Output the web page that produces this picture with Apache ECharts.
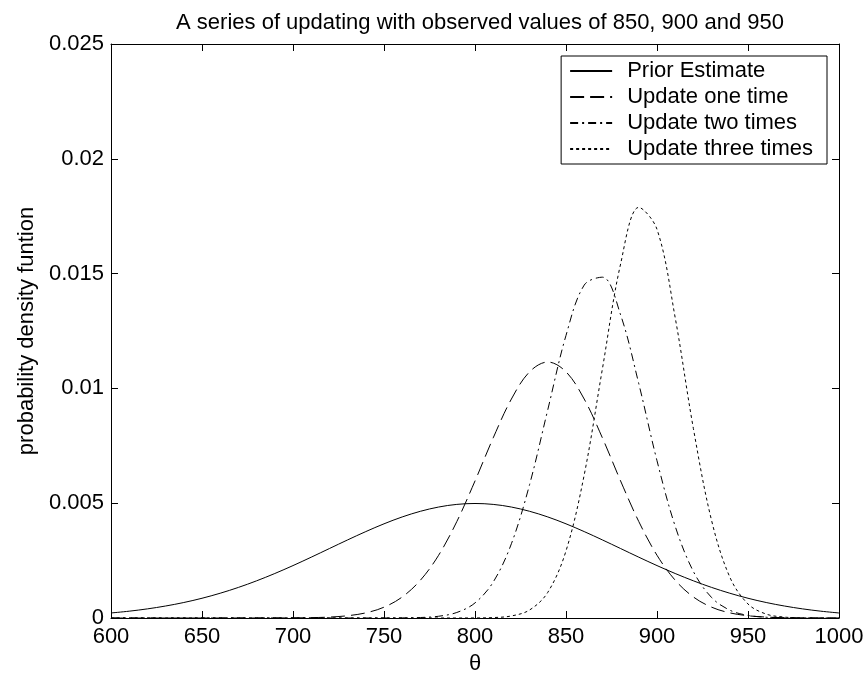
<!DOCTYPE html>
<html>
<head>
<meta charset="utf-8">
<script src="https://cdn.jsdelivr.net/npm/echarts@6/dist/echarts.min.js"></script>
<style>
html,body{margin:0;padding:0;background:#fff;}
#chart{width:865px;height:675px;}
</style>
</head>
<body>
<div id="chart"></div>
<script>
// θ sample positions
var theta = [600,610,620,630,640,650,660,670,680,690,700,710,720,730,740,750,760,770,780,790,800,810,820,830,840,850,860,870,880,890,900,910,920,930,940,950,960,970,980,990,1000];
var priorEstimate = [0.000219,0.000297,0.000397,0.000522,0.000675,0.000860,0.001079,0.001332,0.001619,0.001938,0.002283,0.002648,0.003025,0.003401,0.003764,0.004102,0.004401,0.004648,0.004833,0.004948,0.004987,0.004948,0.004833,0.004648,0.004401,0.004102,0.003764,0.003401,0.003025,0.002648,0.002283,0.001938,0.001619,0.001332,0.001079,0.000860,0.000675,0.000522,0.000397,0.000297,0.000219];
var updateOne = [0,0,0,0,0,0,0,0,0.0000005,0.0000017,0.0000053,0.0000151,0.0000402,0.0000988,0.000224,0.000471,0.000915,0.001645,0.002732,0.004199,0.005968,0.007845,0.009537,0.010723,0.011150,0.010723,0.009537,0.007845,0.005968,0.004199,0.002732,0.001645,0.000915,0.000471,0.000224,0.0000988,0.0000402,0.0000151,0.0000053,0.0000017,0.0000005];
var updateTwo = [0,0,0,0,0,0,0,0,0,0,0,0,0,0,0.0000002,0.0000010,0.0000050,0.0000210,0.0000760,0.000240,0.000657,0.001565,0.003235,0.005813,0.009074,0.012306,0.014500,0.014844,0.013202,0.010202,0.006849,0.003995,0.002025,0.000891,0.000341,0.000113,0.0000330,0.0000082,0.0000018,0.0000003,0];
var updateThree = [0,0,0,0,0,0,0,0,0,0,0,0,0,0,0,0,0,0,0,0.0000004,0.0000031,0.0000185,0.0000890,0.000349,0.001118,0.002922,0.006232,0.010851,0.015418,0.017884,0.016929,0.013079,0.008248,0.004245,0.001783,0.000611,0.000171,0.0000390,0.0000073,0.0000011,0.0000001];
var seriesNames = ['Prior Estimate','Update one time','Update two times','Update three times'];
var xTicks = [600,650,700,750,800,850,900,950,1000];
var yTicks = [0,0.005,0.01,0.015,0.02,0.025];

function pairs(ys){ return theta.map(function(x,i){ return [x, ys[i]]; }); }

var FONT = 'Liberation Sans, Arial, sans-serif';
var FS = 22;
var dashes = ['solid',[14,6],[8,4,2,4],[3,3]];
var allData = [priorEstimate, updateOne, updateTwo, updateThree];

function xAxisDef(pos, showLabels){
  var a = {
    type:'value', position: pos,
    min: xTicks[0], max: xTicks[xTicks.length-1], interval: xTicks[1]-xTicks[0],
    axisLine: {show:true, onZero:false, lineStyle:{color:'#000', width:1}},
    axisTick: {show:true, inside:true, length:7, lineStyle:{color:'#000'}},
    splitLine: {show:false},
    axisLabel: {show: showLabels, fontFamily: FONT, fontSize: FS, color:'#000', margin: 8,
      formatter: function(v){ return String(v); }}
  };
  if (showLabels) {
    a.name = 'θ'; a.nameLocation = 'middle'; a.nameGap = 35;
    a.nameTextStyle = {fontFamily: FONT, fontSize: FS, color:'#000'};
  }
  return a;
}
function yAxisDef(pos, showLabels){
  var a = {
    type:'value', position: pos,
    min: yTicks[0], max: yTicks[yTicks.length-1], interval: yTicks[1]-yTicks[0],
    axisLine: {show:true, onZero:false, lineStyle:{color:'#000', width:1}},
    axisTick: {show:true, inside:true, length:7, lineStyle:{color:'#000'}},
    splitLine: {show:false},
    axisLabel: {show: showLabels, fontFamily: FONT, fontSize: FS, color:'#000', margin: 7,
      formatter: function(v){ var r = Math.round(v*1000)/1000; return r === 0 ? '0' : String(r); }}
  };
  if (showLabels) {
    a.name = 'probability density funtion'; a.nameLocation = 'middle'; a.nameGap = 68;
    a.nameTextStyle = {fontFamily: FONT, fontSize: FS, color:'#000'};
  }
  return a;
}

var chart = echarts.init(document.getElementById('chart'), null, {renderer:'canvas'});
var option = {
  animation: false,
  backgroundColor: '#fff',
  title: {
    text: 'A series of updating with observed values of 850, 900 and 950',
    left: 475, top: 7, textAlign: 'center',
    textStyle: {fontFamily: FONT, fontSize: FS, fontWeight: 'normal', color: '#000'}
  },
  grid: {left: 111, right: 26, top: 44, bottom: 57, containLabel: false, outerBoundsMode: 'none'},
  legend: {
    orient: 'vertical', right: 38, top: 56,
    backgroundColor: '#fff', borderColor: '#000', borderWidth: 1,
    padding: [4, 14, 4, 8],
    itemWidth: 42, itemHeight: 14, itemGap: 4,
    itemStyle: {color: 'rgba(0,0,0,0)', borderColor: 'rgba(0,0,0,0)', borderWidth: 0, opacity: 0},
    textStyle: {fontFamily: FONT, fontSize: FS, color: '#000', padding: [0,0,0,10]},
    data: seriesNames.slice()
  },
  xAxis: [xAxisDef('bottom', true), xAxisDef('top', false)],
  yAxis: [yAxisDef('left', true), yAxisDef('right', false)],
  series: seriesNames.map(function(n, i){
    return {
      name: n, type: 'line', xAxisIndex: 0, yAxisIndex: 0,
      data: pairs(allData[i]),
      showSymbol: false, symbol: 'none', smooth: 0.35,
      lineStyle: {color:'#000', width: 1, type: dashes[i]},
      itemStyle: {color:'#000'}
    };
  })
};
chart.setOption(option);
</script>
</body>
</html>
